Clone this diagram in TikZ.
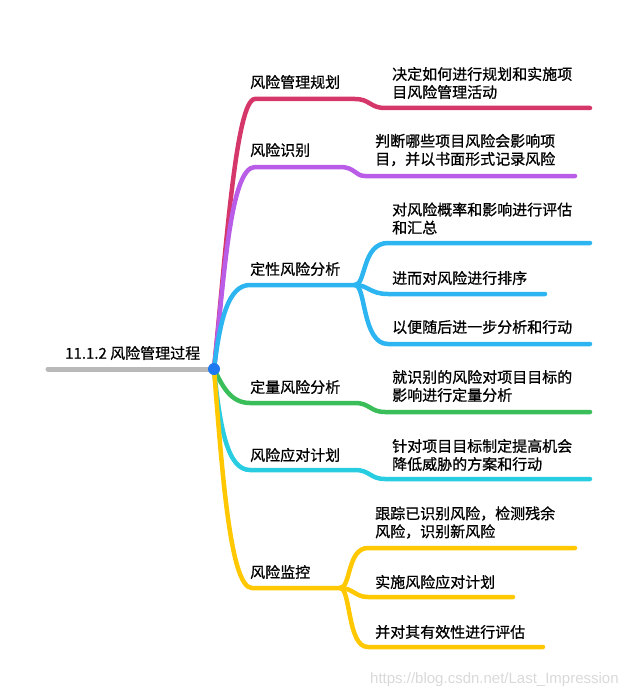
\documentclass[tikz,border=0pt]{standalone}
\usepackage{fontspec}
\setmainfont{Noto Sans CJK SC}[FakeBold=0.8]
\newfontfamily\markfont{Liberation Sans}
\definecolor{cMag}{RGB}{214,55,107}
\definecolor{cPur}{RGB}{185,92,232}
\definecolor{cBlu}{RGB}{44,181,240}
\definecolor{cGrn}{RGB}{58,190,90}
\definecolor{cCya}{RGB}{40,205,225}
\definecolor{cYel}{RGB}{255,200,0}
\definecolor{cHub}{RGB}{30,120,240}
\begin{document}
\begin{tikzpicture}[x=1pt,y=-1pt,
  every node/.style={font=\fontsize{15}{18}\selectfont,inner sep=0pt,align=left,anchor=west},
  branch/.style={line width=4.5pt,line cap=round}]
\useasboundingbox (0,0) rectangle (640,698);
% root
\coordinate (hub) at (214,369);
\coordinate (rootL) at (48,369);
\node (root) at (65,353) {11.1.2 风险管理过程};
\draw[line width=5pt,line cap=round,gray!55] (rootL) -- (hub);
% branch points
\coordinate (planA) at (255,99);  \coordinate (planB) at (355,99);
\coordinate (planC) at (385,108); \coordinate (planD) at (590,108);
\coordinate (idenA) at (255,167); \coordinate (idenB) at (340,167);
\coordinate (idenC) at (365,176); \coordinate (idenD) at (575,176);
\coordinate (qualA) at (250,285); \coordinate (qualJ) at (355,285);
\coordinate (qualU) at (388,243); \coordinate (qualUe) at (590,243);
\coordinate (qualM) at (388,294); \coordinate (qualMe) at (545,294);
\coordinate (qualD) at (388,344); \coordinate (qualDe) at (590,344);
\coordinate (quanA) at (250,403); \coordinate (quanB) at (355,403);
\coordinate (quanC) at (385,412); \coordinate (quanD) at (590,412);
\coordinate (respA) at (250,470); \coordinate (respB) at (355,470);
\coordinate (respC) at (385,479); \coordinate (respD) at (590,479);
\coordinate (moniA) at (252,588); \coordinate (moniJ) at (340,588);
\coordinate (moniU) at (368,548); \coordinate (moniUe) at (575,548);
\coordinate (moniM) at (368,597); \coordinate (moniMe) at (513,597);
\coordinate (moniD) at (368,647); \coordinate (moniDe) at (543,647);
% branches
\draw[branch,cMag] (hub) .. controls (226,250) and (236,99) .. (planA) -- (planB)
  .. controls (370,99) and (370,108) .. (planC) -- (planD);
\draw[branch,cPur] (hub) .. controls (224,280) and (230,167) .. (idenA) -- (idenB)
  .. controls (355,167) and (355,176) .. (idenC) -- (idenD);
\draw[branch,cBlu] (hub) .. controls (220,320) and (228,285) .. (qualA) -- (qualJ);
\draw[branch,cBlu] (qualJ) .. controls (366,285) and (362,243) .. (qualU) -- (qualUe);
\draw[branch,cBlu] (qualJ) .. controls (368,285) and (370,294) .. (qualM) -- (qualMe);
\draw[branch,cBlu] (qualJ) .. controls (366,285) and (362,344) .. (qualD) -- (qualDe);
\draw[branch,cGrn] (hub) .. controls (222,385) and (230,403) .. (quanA) -- (quanB)
  .. controls (370,403) and (370,412) .. (quanC) -- (quanD);
\draw[branch,cCya] (hub) .. controls (220,430) and (228,470) .. (respA) -- (respB)
  .. controls (370,470) and (370,479) .. (respC) -- (respD);
\draw[branch,cYel] (hub) .. controls (222,470) and (230,588) .. (moniA) -- (moniJ);
\draw[branch,cYel] (moniJ) .. controls (351,588) and (347,548) .. (moniU) -- (moniUe);
\draw[branch,cYel] (moniJ) .. controls (353,588) and (355,597) .. (moniM) -- (moniMe);
\draw[branch,cYel] (moniJ) .. controls (351,588) and (347,647) .. (moniD) -- (moniDe);
\fill[cHub] (hub) circle (6);
% topics
\node (plan) at (250,82) {风险管理规划};
\node (iden) at (250,150) {风险识别};
\node (qual) at (250,269) {定性风险分析};
\node (quan) at (250,387) {定量风险分析};
\node (resp) at (250,455) {风险应对计划};
\node (moni) at (250,572) {风险监控};
% leaves
\node (planL) at (392,83) {决定如何进行规划和实施项\\目风险管理活动};
\node (idenL) at (375,150) {判断哪些项目风险会影响项\\目，并以书面形式记录风险};
\node (qualL1) at (392,218.5) {对风险概率和影响进行评估\\和汇总};
\node (qualL2) at (392,278) {进而对风险进行排序};
\node (qualL3) at (392,327) {以便随后进一步分析和行动};
\node (quanL) at (392,386) {就识别的风险对项目目标的\\影响进行定量分析};
\node (respL) at (392,455) {针对项目目标制定提高机会\\降低威胁的方案和行动};
\node (moniL1) at (375,522.5) {跟踪已识别风险，检测残余\\风险，识别新风险};
\node (moniL2) at (375,582) {实施风险应对计划};
\node (moniL3) at (375,632) {并对其有效性进行评估};
\node[font=\markfont\fontsize{15}{18}\selectfont,text=gray!30] (mark) at (370,680) {https://blog.csdn.net/Last\_Impression};
\end{tikzpicture}
\end{document}
